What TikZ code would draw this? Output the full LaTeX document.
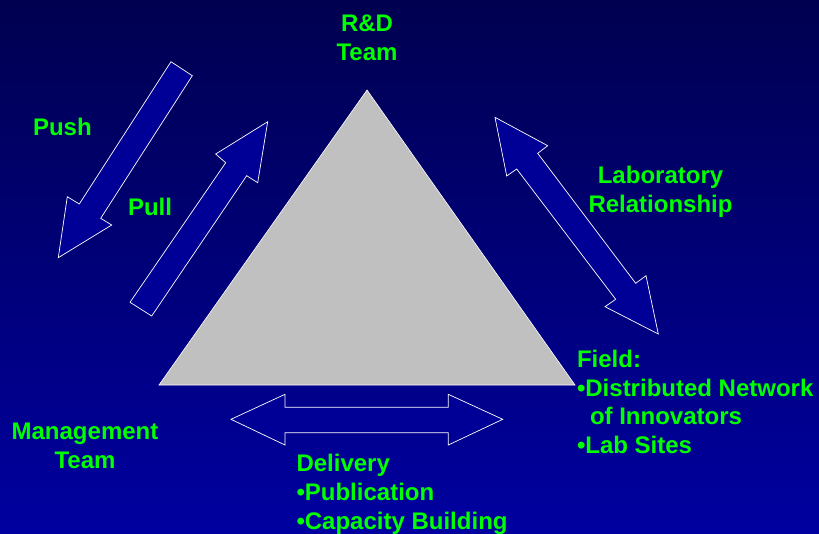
\documentclass[tikz,border=0pt]{standalone}
\usepackage{fontspec}
\setmainfont{Liberation Sans}
\definecolor{bgtop}{RGB}{0,0,80}
\definecolor{bgbot}{RGB}{0,0,160}
\definecolor{arrowfill}{RGB}{0,0,150}
\definecolor{labelgreen}{RGB}{0,255,0}
\definecolor{trigray}{RGB}{192,192,192}
\tikzset{
  blockarrow/.style={fill=arrowfill, draw=white, line width=0.7pt, line join=miter},
  lbl/.style={text=labelgreen, font=\fontsize{24}{29}\selectfont\bfseries, inner sep=0pt, outer sep=0pt},
  lblw/.style={lbl, anchor=base west},
  lblc/.style={lbl, anchor=base},
}
\begin{document}
\begin{tikzpicture}[x=1pt, y=-1pt]
  % backdrop
  \shade[top color=bgtop, bottom color=bgbot] (0,0) rectangle (819,533);
  \useasboundingbox (0,0) rectangle (819,533);

  % central triangle
  \filldraw[fill=trigray, draw=white, line width=0.6pt]
    (367,90) coordinate (apex) -- (575,385) coordinate (right) -- (159,385) coordinate (left) -- cycle;

  % Push arrow (down-left)
  \draw[blockarrow] (171,61.7) -- (192.3,75.7) -- (100.7,218.3) -- (111.7,225)
    -- (58.3,257.7) -- (67.3,196.7) -- (79.3,204) -- cycle;

  % Pull arrow (up-right)
  \draw[blockarrow] (130,302.3) -- (151.7,316) -- (246.7,175.7) -- (257.7,182.7)
    -- (267.7,121.7) -- (215.7,154) -- (225.7,162.7) -- cycle;

  % Laboratory relationship arrow (two heads)
  \draw[blockarrow] (495,117.3) -- (547.7,145.7) -- (537.7,153.3) -- (635.7,283.3)
    -- (646,275.7) -- (658.3,334) -- (605,306.7) -- (615.7,299.3)
    -- (516.7,169) -- (506.7,176) -- cycle;

  % Delivery arrow (two heads, horizontal)
  \draw[blockarrow] (231,419.3) -- (285,394.3) -- (285,407.3) -- (448.3,407.3)
    -- (448.3,394.3) -- (502.7,419.3) -- (448.3,445) -- (448.3,432.7)
    -- (285,432.7) -- (285,445) -- cycle;

  % labels
  \node[lblc] (rd1) at (367,31.5) {R\&D};
  \node[lblc] (rd2) at (367,60) {Team};

  \node[lblw] (push) at (33,135) {Push};
  \node[lblw] (pull) at (128,215) {Pull};

  \node[lblc] (lab1) at (660.5,183.5) {Laboratory};
  \node[lblc] (lab2) at (660.5,212.5) {Relationship};

  \node[lblc] (mg1) at (85,439) {Management};
  \node[lblc] (mg2) at (85,468) {Team};

  \node[lblw] (fd1) at (577,367) {Field:};
  \node[lblw] (fd2) at (577,396) {•Distributed Network};
  \node[lblw] (fd3) at (590,424) {of Innovators};
  \node[lblw] (fd4) at (577,453) {•Lab Sites};

  \node[lblw] (dv1) at (296.5,471) {Delivery};
  \node[lblw] (dv2) at (296.5,500) {•Publication};
  \node[lblw] (dv3) at (296.5,529) {•Capacity Building};
\end{tikzpicture}
\end{document}
